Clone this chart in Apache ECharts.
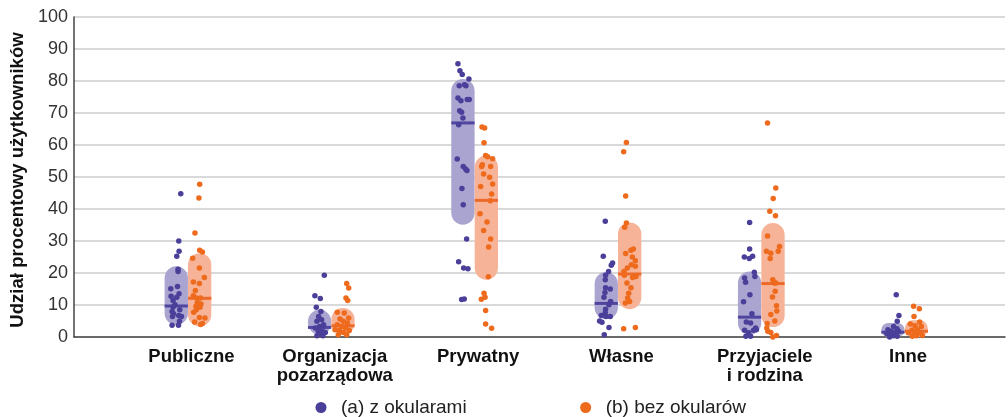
<!DOCTYPE html>
<html><head><meta charset="utf-8">
<script src="https://cdn.jsdelivr.net/npm/echarts@6/dist/echarts.min.js"></script>
<style>html,body{margin:0;padding:0;background:#fff}#c{width:1008px;height:417px}</style>
</head><body><div id="c"></div>
<script>
// ---- data ----
const categories = ['Publiczne', 'Organizacja\npozarządowa', 'Prywatny', 'Własne', 'Przyjaciele\ni rodzina', 'Inne'];
const seriesNames = ['(a) z okularami', '(b) bez okularów'];
const yAxisName = 'Udział procentowy użytkowników';
const yMin = 0, yMax = 100, yStep = 10;

// boxes: [lower quartile, median, upper quartile] per category
const boxA = [[3.8, 9.7, 22.1], [0.7, 3.0, 8.5], [35.1, 66.9, 80.6], [5.6, 10.5, 20.3], [0.7, 6.2, 20.5], [0, 1.5, 4.4]];
const boxB = [[3.3, 12.1, 26.2], [0.7, 3.5, 9.1], [17.9, 42.7, 56.7], [8.7, 19.7, 35.8], [3.1, 16.7, 35.6], [0, 1.8, 5.2]];

// individual points: [value, horizontal spread]
const pubA = [[44.8,4.5],[30,2.5],[26.8,2.8],[25.2,0.5],[21.2,1.8],[20.5,1.8],[15.8,1.2],[15.1,-5.5],[13.5,2.8],[12.7,-5.2],[12.4,0.5],[11.4,-3.2],[10.1,-1.2],[9.4,-3.2],[8.5,3.5],[8.0,-4.2],[7.3,-2.8],[6.7,2.5],[6.4,5.2],[6.4,-3.8],[4.9,3.2],[3.7,-4.2],[3.7,2.2]];
const pubB = [[47.7,0],[43.4,-0.7],[32.5,-4.7],[27.1,0],[26.6,2.7],[24.6,-7],[21.6,-0.3],[18.6,4.7],[17.2,-6.3],[16.7,-0.3],[14.5,-4.3],[12.9,-6.3],[12.2,-3.3],[12.2,0.7],[10.8,-2.3],[10.3,1.3],[9.6,-3.7],[9.3,0.3],[8.5,-3.3],[7.7,-6],[6.1,-0.3],[5.9,5.3],[4.7,-5],[4.2,2.7],[3.9,1]];
const orgA = [[19.3,4.7],[12.9,-4.7],[12.0,0.7],[9.3,-3.3],[8.0,1.3],[6.4,-1],[5.4,2],[4.9,-2.7],[3.8,4],[3.3,0],[2.8,-4.3],[2.3,2.3],[1.8,-1.3],[1.4,5.7],[1.0,0.7],[0.4,-2.7],[0.4,3.3]];
const orgB = [[16.7,3.7],[15.3,5.7],[12.2,3],[11.4,4.7],[7.7,-5.7],[7.5,1.3],[5.9,5.7],[5.6,-3],[4.9,0.3],[4.4,4.3],[3.8,-5.7],[3.3,-1.3],[2.8,2.7],[2.3,-8],[2.0,-3.7],[2.0,6.3],[1.4,0.3],[0.7,-4.7],[0.7,3.7]];
const prA = [[85.4,-5],[83.2,-3],[82.0,-0.7],[80.6,6],[78.5,-3.7],[78.8,1.7],[78.5,3],[74.7,-5],[73.8,-2],[74.2,4.3],[74.2,6.3],[70.7,-3.3],[70.2,-1.3],[68.4,0],[66.3,-4.3],[55.6,-5.7],[53.3,0.3],[52.5,2.7],[52.0,4],[46.4,-1],[41.3,0.3],[30.6,3.7],[23.5,-4.3],[21.6,0.7],[21.3,5],[11.7,-1.3],[11.9,1.3]];
const prB = [[65.6,-4.3],[65.3,-1.7],[60.7,-2.3],[56.7,-0.7],[56.3,1.3],[55.7,6.3],[53.3,-4.7],[53.8,-4],[53.3,4.3],[50.9,-2.7],[49.9,3.3],[47.8,6.3],[47.0,-5.7],[44.7,5.3],[42.6,4],[38.5,-6.3],[35.9,0.7],[33.3,-2.7],[30.6,4.3],[28.1,2.3],[18.8,2],[13.7,-2.3],[12.4,-1.3],[11.8,-5],[8.3,-0.7],[4.1,-0.7],[2.7,5.3]];
const wlA = [[36.2,-1],[25.2,-3],[22.4,5],[23.1,6.3],[20.5,2.3],[19.3,-0.7],[17.9,-1],[15.4,-0.7],[15.0,4],[13.9,-1.3],[12.4,-2.3],[11.1,4.3],[10.1,2.7],[8.7,-0.7],[7.5,-1],[6.7,-5],[6.4,-0.3],[6.4,4],[5.0,-6.7],[4.6,-4.3],[3.0,2.7],[0.7,-2]];
const wlB = [[60.8,-3.3],[57.9,-6],[44.1,-4],[35.6,-3.3],[34.3,-5],[27.1,1.3],[27.5,3.7],[26.1,-4],[25.0,2.7],[23.8,5.7],[22.6,1.7],[22.1,5.7],[21.6,-2.3],[20.5,-5.7],[19.3,-5.3],[18.9,6.3],[18.6,3],[16.9,-2.7],[15.4,1.3],[13.7,-1],[12.2,-2],[10.6,-4.3],[11.1,0],[2.6,-6],[3.0,5.7]];
const przA = [[35.8,0],[27.5,0],[25.0,-5.3],[24.5,-0.3],[25.2,3],[20.2,4.7],[18.9,5.3],[18.4,-5],[17.1,-4],[13.2,0.3],[11.0,-6],[7.3,2.3],[4.7,-3.3],[4.4,1],[2.8,6],[2.1,4],[2.1,-5],[1.3,-1],[0.2,-3.7],[0.2,1],[2.3,6.7]];
const przB = [[66.9,-5.5],[46.6,2.8],[43.3,0.2],[39.3,-3.2],[37.9,2.5],[31.6,-5.5],[28.3,6.5],[26.8,5.2],[26.8,-6.5],[26.2,-2.2],[24.5,-2.8],[17.9,-0.2],[16.9,1.5],[16.9,2.8],[14.3,2.2],[12.5,-0.5],[9.8,3.5],[8.1,3.8],[7.0,-2.2],[5.0,1.8],[4.2,-5.8],[2.8,-6.2],[1.8,-5.2],[1.4,-2.2],[0,-0.2],[0.5,3.5]];
const inA = [[13.2,3.3],[6.7,6],[4.9,4.3],[3.3,0.7],[2.6,4],[2.3,-5],[1.8,-1.7],[1.8,5.7],[1.3,2],[1.0,-6],[0.7,-2.7],[0.4,0.7],[0,-3.3],[0.2,4.3]];
const inB = [[9.6,-2.7],[8.8,3],[6.4,-2.3],[4.7,3.3],[4.1,-6],[3.5,-1.3],[3.3,5],[2.3,1],[2.1,-4.3],[1.4,-2.3],[1.3,3.3],[1.3,-8],[0.4,0],[0.2,-4],[0.5,6]];

const pointsA = [pubA, orgA, prA, wlA, przA, inA];
const pointsB = [pubB, orgB, prB, wlB, przB, inB];

// ---- styling / layout ----
const COL_A = '#4a3f99', COL_B = '#ee6a1c';
const BOX_A = '#aaa4d0', BOX_B = '#f6b397';
const MED_A = '#5046a0', MED_B = '#ec6a2a';
const OFFSET = 0.0816;      // half distance between the two groups, in category units
const SPREAD = 1 / 143.3;   // spread unit -> category units
const BOX_W = 23.3;
const FONT = '"Liberation Sans", Arial, sans-serif';

function toScatter(groups, side) {
  const out = [];
  groups.forEach((arr, i) => arr.forEach(p => out.push([i + 0.5 + side * OFFSET + p[1] * SPREAD, p[0]])));
  return out;
}
function boxRender(side, fill, med) {
  return function (params, api) {
    const i = api.value(0);
    const x = i + 0.5 + side * OFFSET;
    const top = api.coord([x, api.value(3)]);
    const bot = api.coord([x, api.value(1)]);
    const m = api.coord([x, api.value(2)]);
    const h = bot[1] - top[1];
    const r = Math.min(BOX_W / 2, h / 2);
    return {
      type: 'group', children: [
        { type: 'rect', shape: { x: top[0] - BOX_W / 2, y: top[1], width: BOX_W, height: h, r: r }, style: { fill: fill } },
        { type: 'rect', shape: { x: top[0] - BOX_W / 2, y: m[1] - 1.5, width: BOX_W, height: 3 }, style: { fill: med } }
      ]
    };
  };
}

const chart = echarts.init(document.getElementById('c'), null, { renderer: 'canvas' });
chart.setOption({
  animation: false,
  backgroundColor: '#fff',
  textStyle: { fontFamily: FONT },
  grid: [
    { left: 74, right: 3, top: 17, bottom: 80 },
    { left: 116.3, width: 860, top: 17, bottom: 80 }
  ],
  legend: {
    data: seriesNames,
    left: 310.5, top: 393,
    icon: 'circle', itemWidth: 30, itemHeight: 11, itemGap: 113.5,
    textStyle: { fontSize: 19, color: '#222', fontFamily: FONT }
  },
  xAxis: [
    { gridIndex: 0, type: 'value', min: 0, max: 1, axisLine: { show: true, lineStyle: { color: '#444', width: 1.5 } },
      axisTick: { show: false }, axisLabel: { show: false }, splitLine: { show: false } },
    { gridIndex: 1, type: 'category', data: categories, axisLine: { show: false }, axisTick: { show: false },
      axisLabel: { fontSize: 18.5, fontWeight: 'bold', color: '#111', lineHeight: 19, margin: 10, interval: 0,
        fontFamily: FONT, padding: [0, 0, 0, 7] } },
    { gridIndex: 1, type: 'value', min: 0, max: 6, show: false }
  ],
  yAxis: [
    { gridIndex: 0, type: 'value', min: yMin, max: yMax, interval: yStep,
      name: yAxisName, nameLocation: 'middle', nameGap: 47,
      nameTextStyle: { fontSize: 18.6, fontWeight: 'bold', color: '#111', fontFamily: FONT, padding: [0, 6, 0, 0] },
      axisLine: { show: true, lineStyle: { color: '#444', width: 1.5 } }, axisTick: { show: false },
      axisLabel: { fontSize: 18, color: '#333', margin: 6, fontFamily: FONT },
      splitLine: { show: true, lineStyle: { color: '#cdcdcd', width: 1.5 } } },
    { gridIndex: 1, type: 'value', min: yMin, max: yMax, show: false }
  ],
  series: [
    { type: 'custom', name: 'boxA', xAxisIndex: 2, yAxisIndex: 1, renderItem: boxRender(-1, BOX_A, MED_A),
      encode: { x: 0, y: [1, 2, 3] }, data: boxA.map((b, i) => [i, b[0], b[1], b[2]]), z: 1, silent: true },
    { type: 'custom', name: 'boxB', xAxisIndex: 2, yAxisIndex: 1, renderItem: boxRender(1, BOX_B, MED_B),
      encode: { x: 0, y: [1, 2, 3] }, data: boxB.map((b, i) => [i, b[0], b[1], b[2]]), z: 1, silent: true },
    { type: 'scatter', name: seriesNames[0], xAxisIndex: 2, yAxisIndex: 1, symbolSize: 5.5,
      itemStyle: { color: COL_A, opacity: 1 }, data: toScatter(pointsA, -1), z: 3 },
    { type: 'scatter', name: seriesNames[1], xAxisIndex: 2, yAxisIndex: 1, symbolSize: 5.5,
      itemStyle: { color: COL_B, opacity: 1 }, data: toScatter(pointsB, 1), z: 3 }
  ]
});
</script></body></html>
